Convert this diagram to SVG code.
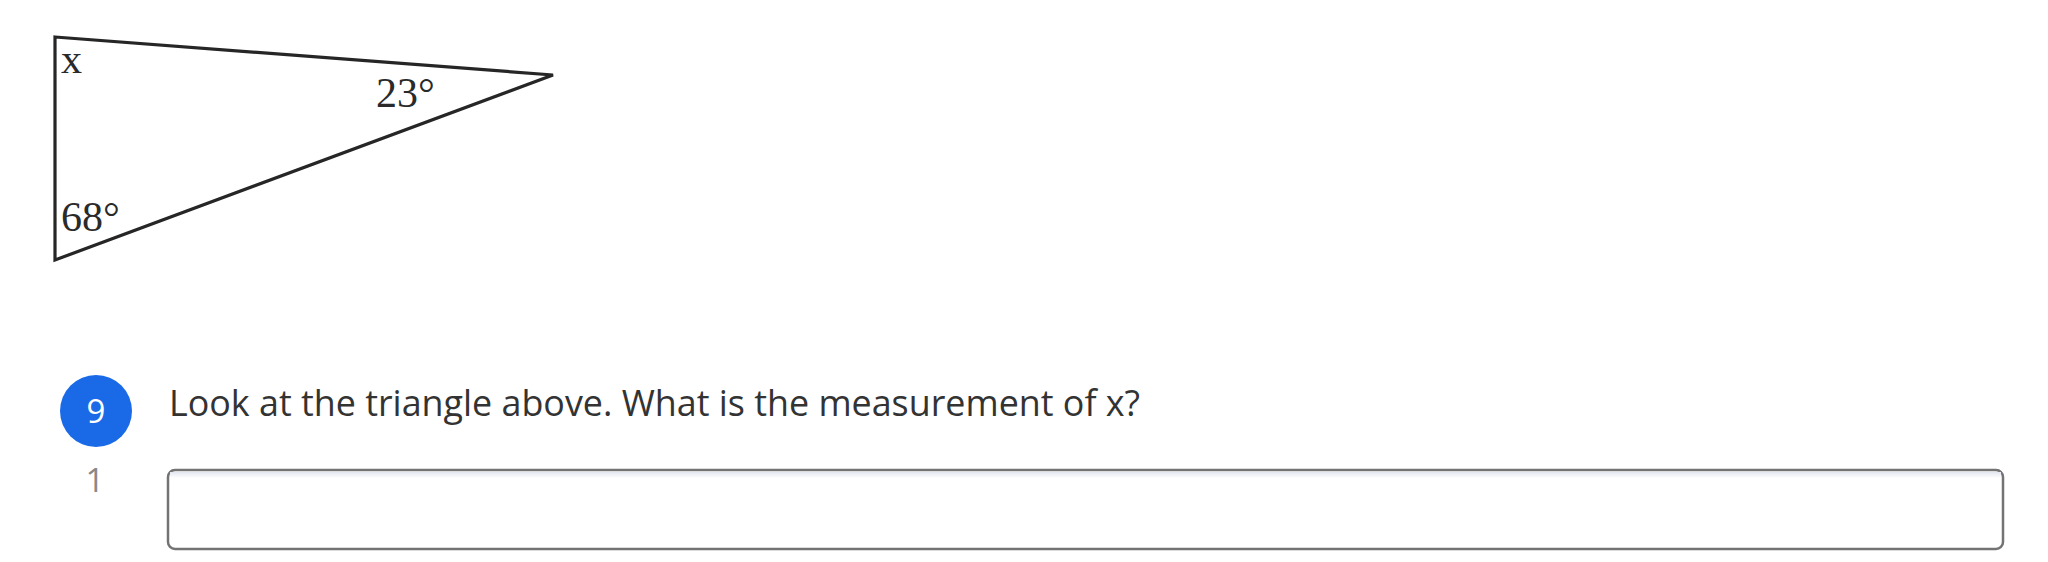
<svg xmlns="http://www.w3.org/2000/svg" width="2048" height="562" viewBox="0 0 2048 562">
  <defs>
    <style>
      .lbl { font-family: "Liberation Serif", serif; font-size: 42px; fill: #2a2a2a; }
      .q { font-family: "Open Sans", "Noto Sans", sans-serif; font-size: 36px; fill: #333333; }
      .num { font-family: "Open Sans", "Noto Sans", sans-serif; font-size: 33px; }
    </style>
    <linearGradient id="inshade" x1="0" y1="0" x2="0" y2="1">
      <stop offset="0" stop-color="#e4e6f0"/>
      <stop offset="1" stop-color="#ffffff"/>
    </linearGradient>
  </defs>
  <rect width="2048" height="562" fill="#ffffff"/>
  <g id="triangle">
    <polygon points="55,37 553,75 55,260" fill="none" stroke="#262626" stroke-width="3.2" stroke-linejoin="miter"/>
    <text class="lbl" x="61" y="73">x</text>
    <text class="lbl" x="376" y="107">23°</text>
    <text class="lbl" x="61" y="231">68°</text>
  </g>
  <g id="question-number">
    <circle cx="96" cy="411" r="36" fill="#1a6ae8"/>
    <text class="num" x="96" y="423" text-anchor="middle" fill="#ffffff">9</text>
    <text class="num" x="95" y="492" text-anchor="middle" fill="#888888" font-size="26">1</text>
  </g>
  <g id="question-text">
    <text class="q" x="169" y="416" textLength="971" lengthAdjust="spacingAndGlyphs">Look at the triangle above. What is the measurement of x?</text>
  </g>
  <g id="answer-box">
    <rect x="168" y="470" width="1835" height="79" rx="7" ry="7" fill="#ffffff" stroke="#737373" stroke-width="2.5"/>
    <rect x="170" y="472" width="1831" height="6" fill="url(#inshade)"/>
  </g>
</svg>
